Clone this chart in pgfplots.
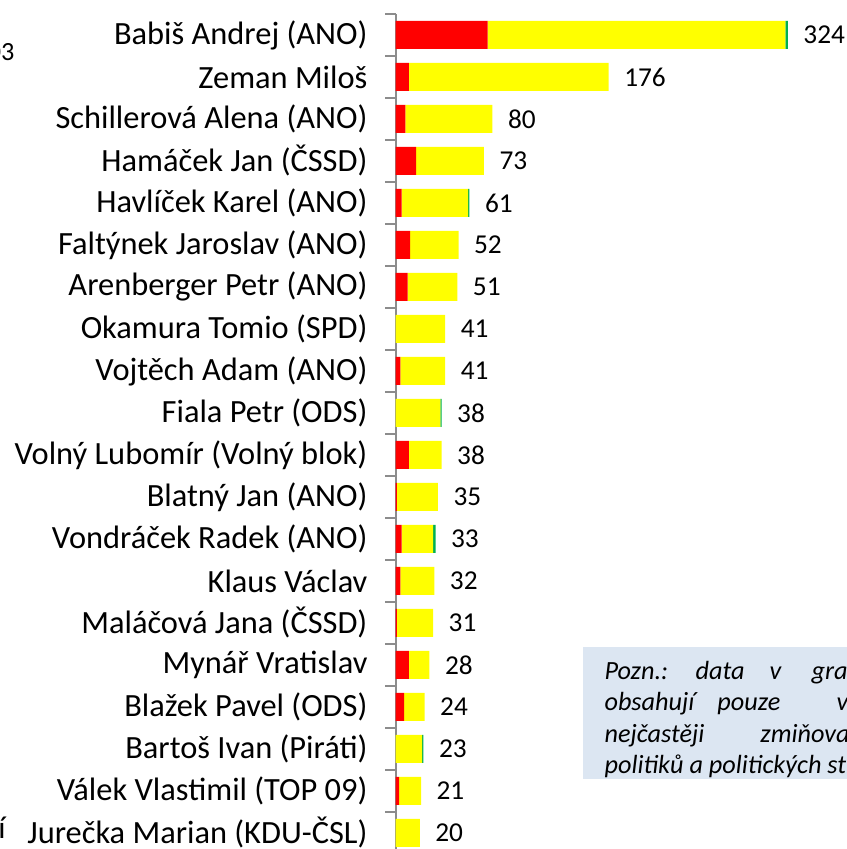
\documentclass[border=0pt]{standalone}
\usepackage{pgfplots}
\pgfplotsset{compat=1.18}
\usepackage{pgfplotstable}
\usepackage{fontspec}
\setmainfont{Carlito}
\definecolor{negred}{RGB}{255,0,0}
\definecolor{neuyel}{RGB}{255,255,0}
\definecolor{posgrn}{RGB}{0,176,80}
\definecolor{axgray}{RGB}{140,140,140}
\definecolor{notebg}{RGB}{220,230,242}

\pgfplotstableread{
idx neg neu pos total
0 76 246 2 324
1 11 165 0 176
2 8 72 0 80
3 17 56 0 73
4 5 55 1 61
5 12 40 0 52
6 10 41 0 51
7 0 41 0 41
8 4 37 0 41
9 0 37 1 38
10 11 27 0 38
11 1 34 0 35
12 5 26 2 33
13 4 28 0 32
14 1 30 0 31
15 11 17 0 28
16 7 17 0 24
17 0 22 1 23
18 3 18 0 21
19 0 20 0 20
}\data

\pgfplotsset{common/.style={
  at={(150.7pt,-325.3pt)}, anchor=south west,
  scale only axis, width=170.67pt, height=320pt,
  xmin=0, xmax=370, ymin=-0.5, ymax=19.5, y dir=reverse,
}}

\begin{document}
\begin{tikzpicture}
\path[use as bounding box] (0,0) rectangle (322.67pt,-323.43pt);
\clip (0,0) rectangle (322.67pt,-323.43pt);
\begin{axis}[common,
  xbar stacked, bar width=10.67pt,
  axis y line*=left, hide x axis,
  y axis line style={-, axgray, line width=0.75pt},
  ytick={0,...,19},
  yticklabels={{Babiš Andrej (ANO)},{Zeman Miloš},{Schillerová Alena (ANO)},{Hamáček Jan (ČSSD)},{Havlíček Karel (ANO)},{Faltýnek Jaroslav (ANO)},{Arenberger Petr (ANO)},{Okamura Tomio (SPD)},{Vojtěch Adam (ANO)},{Fiala Petr (ODS)},{Volný Lubomír (Volný blok)},{Blatný Jan (ANO)},{Vondráček Radek (ANO)},{Klaus Václav},{Maláčová Jana (ČSSD)},{Mynář Vratislav},{Blažek Pavel (ODS)},{Bartoš Ivan (Piráti)},{Válek Vlastimil (TOP 09)},{Jurečka Marian (KDU-ČSL)}},
  major tick length=0pt,
  minor ytick={-0.5,0.5,...,19.5},
  minor tick length=4pt, tick align=outside,
  minor tick style={axgray, line width=0.75pt},
  yticklabel style={font=\fontsize{12.35}{14}\selectfont, xshift=-7.2pt},
]
\addplot[fill=negred, draw=none] table[x=neg,y=idx]{\data};
\addplot[fill=neuyel, draw=none] table[x=neu,y=idx]{\data};
\addplot[fill=posgrn, draw=none] table[x=pos,y=idx]{\data};
\end{axis}
\begin{axis}[common, hide axis, /pgf/number format/assume math mode=true]
\addplot[only marks, mark=none, nodes near coords, point meta=explicit,
  nodes near coords style={anchor=west, font=\fontsize{10.4}{12}\selectfont, xshift=2.4pt}]
  table[x=total,y=idx,meta=total]{\data};
\end{axis}
\node[anchor=east, inner sep=0pt, font=\fontsize{10}{12}\selectfont] at (5.7pt,-19.8pt) {03};
\node[anchor=east, inner sep=0pt, font=\fontsize{12}{14}\selectfont] at (2.3pt,-315.3pt) {í};
\fill[notebg] (222.1pt,-246.5pt) rectangle (330pt,-296.8pt);
\begin{scope}[every node/.style={anchor=base west, inner sep=0pt, font=\fontsize{10}{12}\selectfont\itshape}]
\node at (230.1pt,-258.7pt) {\makebox[34.7pt][l]{Pozn.:}\makebox[28.2pt][l]{data}\makebox[16.0pt][l]{v}grafu};
\node at (230.1pt,-270.7pt) {\makebox[43.0pt][l]{obsahují}\makebox[45.4pt][l]{pouze}výběr};
\node at (230.1pt,-282.7pt) {\makebox[59.4pt][l]{nejčastěji}zmiňovaných};
\node at (230.1pt,-294.7pt) {politiků a politických stran.};
\end{scope}
\end{tikzpicture}
\end{document}
